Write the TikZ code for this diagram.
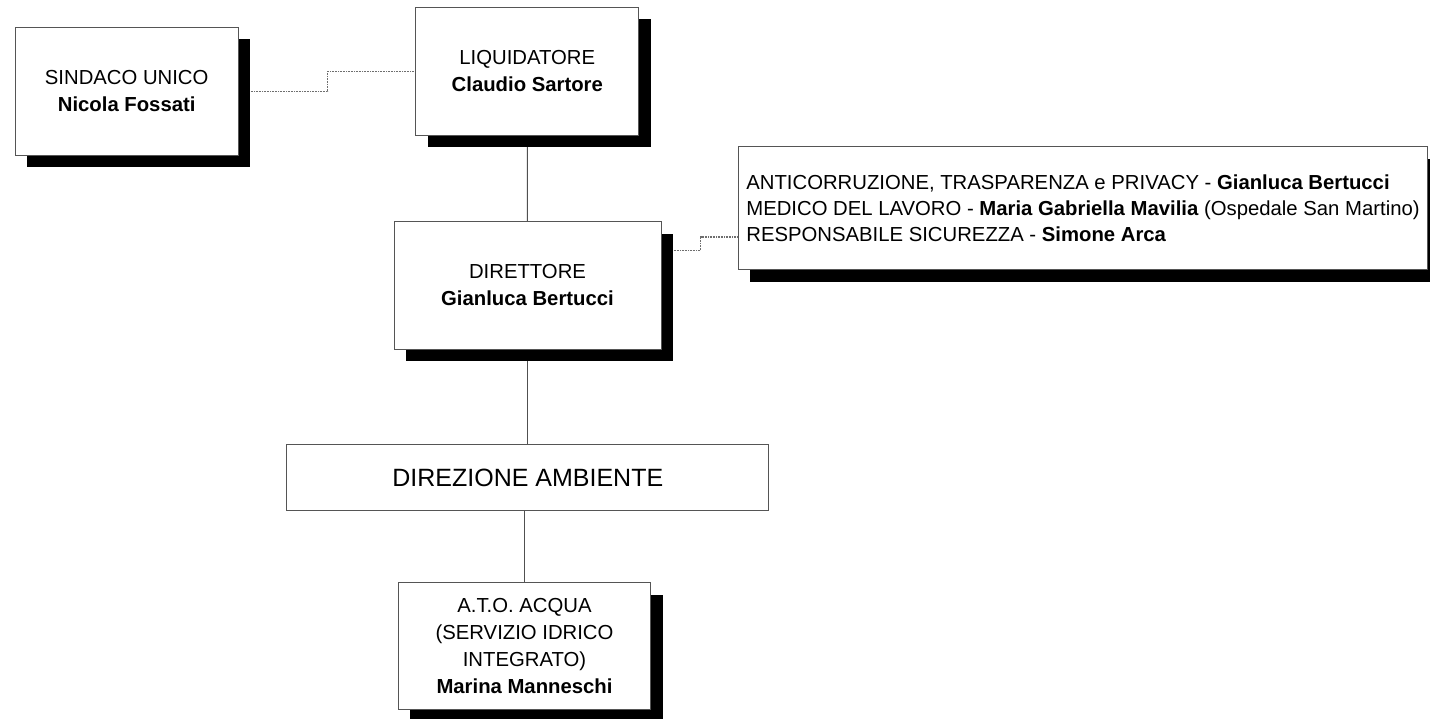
\documentclass[tikz,border=0pt]{standalone}
\usepackage{fontspec}
\setmainfont{Liberation Sans}
\usetikzlibrary{calc,shadows}
\pgfdeclarelayer{back}
\pgfdeclarelayer{bg}
\pgfsetlayers{back,bg,main}
\definecolor{bordergray}{HTML}{555555}
\definecolor{linegray}{HTML}{505050}
\definecolor{dotgray}{HTML}{6E6E6E}
\tikzset{
  orgbox/.style={draw=bordergray, line width=1pt, fill=white, inner sep=0pt, align=center,
    font=\fontsize{20.3pt}{27pt}\selectfont,
    drop shadow={shadow xshift=12pt, shadow yshift=-12pt, opacity=1, fill=black}},
  plainbox/.style={draw=bordergray, line width=1pt, fill=white, inner sep=0pt, align=center,
    font=\fontsize{25pt}{30pt}\selectfont},
  solidline/.style={draw=linegray, line width=1pt},
  dotline/.style={draw=dotgray, line width=1.1pt, dash pattern=on 1pt off 0.6pt}
}
\begin{document}
\begin{tikzpicture}[x=1pt,y=-1pt]
\useasboundingbox (0,0) rectangle (1430,718);
\clip (0,0) rectangle (1430,718);
\begin{pgfonlayer}{back}
\fill[white] (0,0) rectangle (1430,718);
\end{pgfonlayer}

\node[orgbox, minimum width=223.3pt, minimum height=127.7pt] (sindaco) at (126.7,91.2)
  {SINDACO UNICO\\\textbf{Nicola Fossati}};
\node[orgbox, minimum width=223.3pt, minimum height=127.7pt] (liq) at (527.3,71.2)
  {LIQUIDATORE\\\textbf{Claudio Sartore}};
\node[orgbox, minimum width=267pt, minimum height=127.6pt] (dir) at (527.5,285.5)
  {DIRETTORE\\\textbf{Gianluca Bertucci}};
\node[plainbox, minimum width=482pt, minimum height=65.7pt] (amb) at (527.8,477.8)
  {DIREZIONE AMBIENTE};
\node[orgbox, minimum width=252.3pt, minimum height=126.7pt] (ato) at (524.5,646)
  {A.T.O. ACQUA\\(SERVIZIO IDRICO\\INTEGRATO)\\\textbf{Marina Manneschi}};
\node[orgbox, align=left, font=\fontsize{20.3pt}{26pt}\selectfont,
      minimum width=689.3pt, minimum height=123.3pt] (anti) at (1083,208.3)
  {ANTICORRUZIONE, TRASPARENZA e PRIVACY - \textbf{Gianluca Bertucci}\\
   MEDICO DEL LAVORO - \textbf{Maria Gabriella Mavilia} (Ospedale San Martino)\\
   RESPONSABILE SICUREZZA - \textbf{Simone Arca}};

\begin{pgfonlayer}{bg}
\draw[dotline] ($(sindaco.east)+(12,0)$) -- ++(77,0) |- (liq.west);
\draw[solidline] (liq) -- (dir);
\draw[solidline] (dir) -- (dir |- amb.north);
\draw[solidline] (amb.south -| ato.north) -- (ato.north);
\draw[dotline] ($(dir.north east)+(12,29.3)$) -- ++(27,0) |- ($(anti.west)+(0,28.7)$);
\end{pgfonlayer}
\end{tikzpicture}
\end{document}
